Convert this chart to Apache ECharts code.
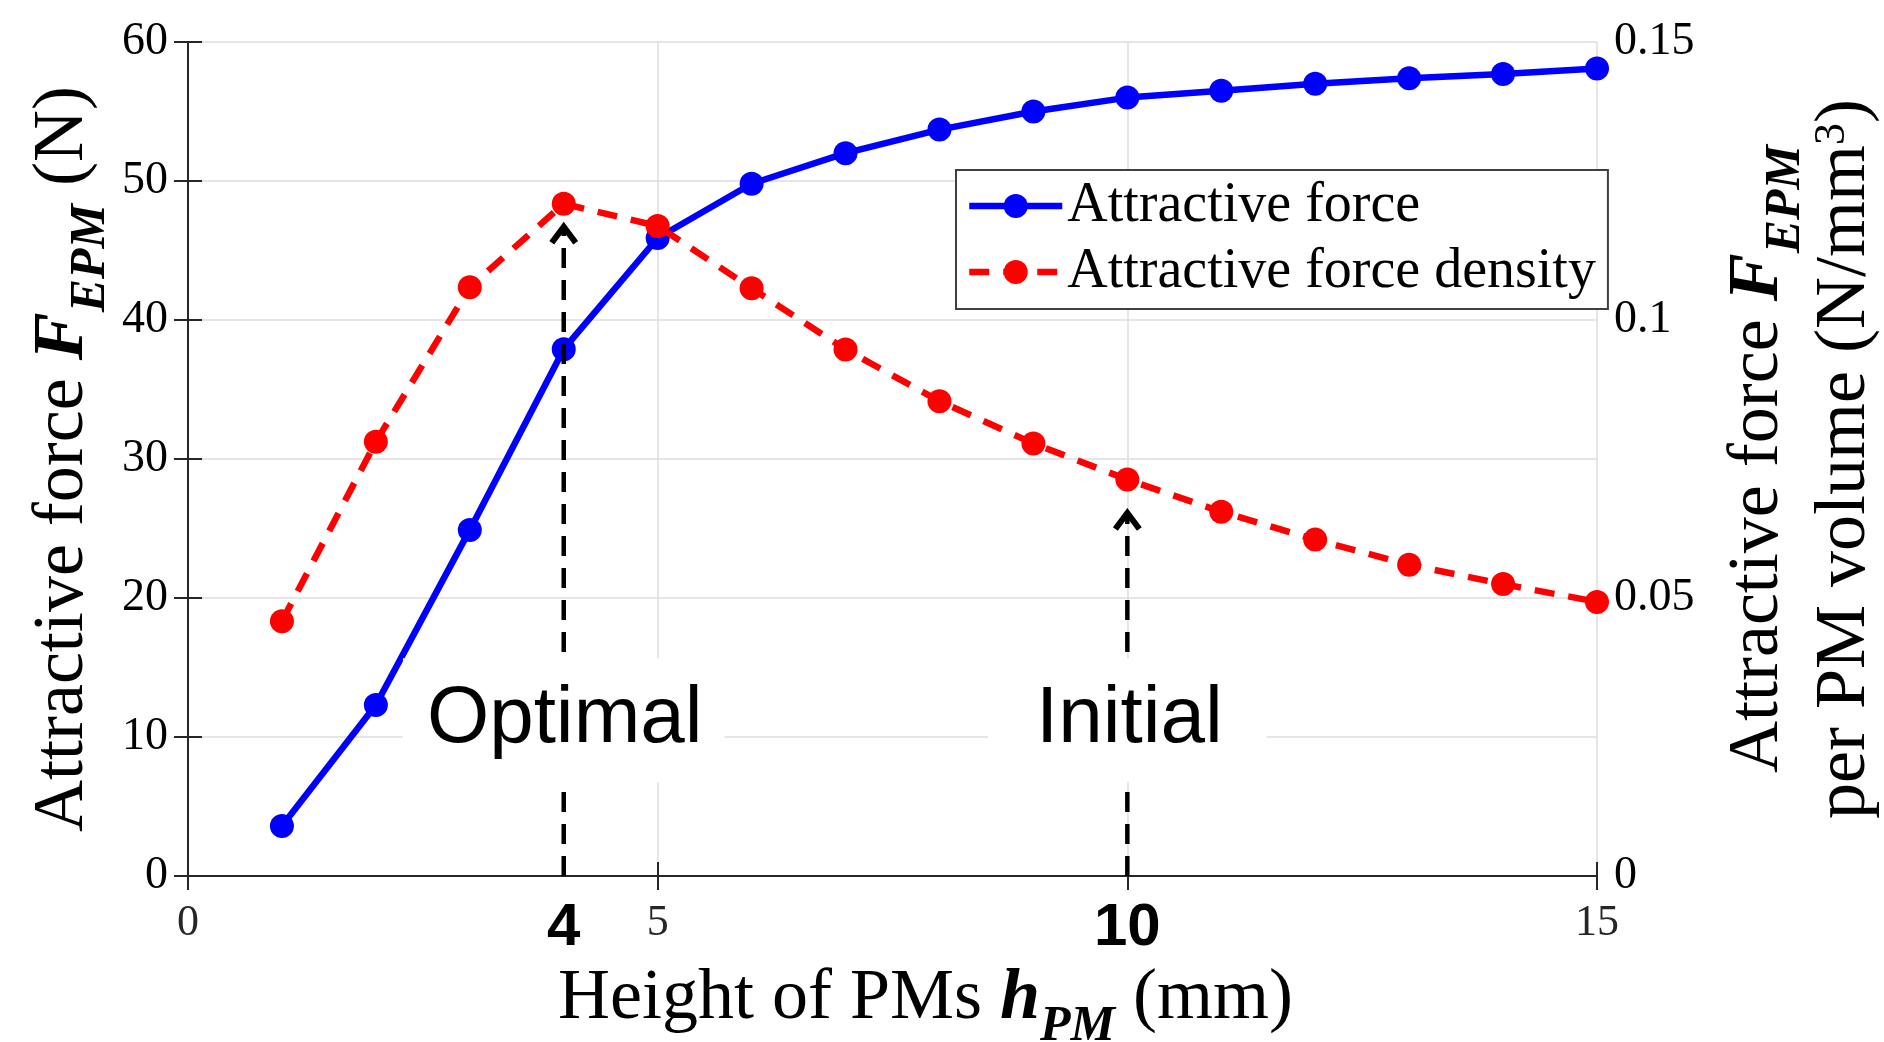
<!DOCTYPE html>
<html>
<head>
<meta charset="utf-8">
<title>Attractive force vs. PM height</title>
<script src="https://cdn.jsdelivr.net/npm/echarts@6/dist/echarts.min.js"></script>
<style>
  html, body { margin: 0; padding: 0; background: #fff; }
  #chart { width: 1884px; height: 1042px; }
</style>
</head>
<body>
<div id="chart"></div>
<script>
// PM height (mm)
const heights = [1, 2, 3, 4, 5, 6, 7, 8, 9, 10, 11, 12, 13, 14, 15];
// Attractive force F_EPM (N)
const attractiveForce = [3.6, 12.3, 24.9, 37.9, 45.9, 49.8, 52.0, 53.7, 55.0, 56.0, 56.5, 57.0, 57.4, 57.7, 58.1];
// Attractive force per PM volume (N/mm^3)
const forceDensity = [0.0458, 0.0781, 0.1059, 0.1209, 0.1169, 0.1057, 0.0947, 0.0854, 0.0778, 0.0713, 0.0655, 0.0605, 0.0560, 0.0525, 0.0493];

// Highlighted designs: arrow position, arrow head level (left-axis units), caption level
const markerHeights = [4, 10];
const markerLabels = ['Optimal', 'Initial'];
const arrowTips = [47.0, 26.4];
const captionLevel = [11.2, 11.2];

// Bottom-axis label positions; emphasised ones are drawn bold
const xLabelValues = [0, 4, 5, 10, 15];
const emphasisedTicks = [4, 10];

const seriesNames = ['Attractive force', 'Attractive force density'];

const SERIF = '"Liberation Serif", "Times New Roman", serif';
const SANS = '"Liberation Sans", Arial, sans-serif';
const AXIS_COLOR = '#262626';
const GRID_COLOR = '#dedede';

// rich styles shared by the axis titles (regular, bold italic, subscript, superscript)
const titleRich = {
  r: { fontFamily: SERIF, fontSize: 72, lineHeight: 87, color: '#000' },
  b: { fontFamily: SERIF, fontSize: 72, fontWeight: 'bold', fontStyle: 'italic', lineHeight: 87, color: '#000' },
  s: { fontFamily: SERIF, fontSize: 50, fontWeight: 'bold', fontStyle: 'italic', lineHeight: 87, padding: [55, 0, 0, 0], color: '#000' },
  sup: { fontFamily: SERIF, fontSize: 44, lineHeight: 87, padding: [0, 0, 27, 0], color: '#000' }
};

const boxPadding = [[22, 22, 22, 24], [22, 44, 22, 48]];

const chart = echarts.init(document.getElementById('chart'), null, { renderer: 'canvas' });

const option = {
  animation: false,
  backgroundColor: '#fff',
  grid: { left: 188, right: 287, top: 42, bottom: 166, outerBoundsMode: 'none', containLabel: false },
  legend: {
    data: seriesNames,
    orient: 'vertical',
    left: 956,
    top: 170,
    padding: [8, 12, 9, 10],
    itemWidth: 93,
    itemHeight: 30,
    itemGap: 10,
    backgroundColor: '#fff',
    borderColor: '#404040',
    borderWidth: 2,
    borderRadius: 0,
    selectedMode: false,
    lineStyle: { width: 6.5 },
    textStyle: { fontFamily: SERIF, fontSize: 56, lineHeight: 54, color: '#000' }
  },
  xAxis: [
    {
      type: 'value',
      position: 'bottom',
      min: 0, max: 15, interval: 5,
      name: '{r|Height of PMs }{b|h}{s|PM}{r| (mm)}',
      nameLocation: 'middle',
      nameGap: 80,
      nameMoveOverlap: false,
      nameTextStyle: { rich: titleRich, padding: [0, 0, 0, 66] },
      axisLine: { show: true, lineStyle: { color: AXIS_COLOR, width: 2 } },
      axisTick: { show: true, inside: true, length: 14, lineStyle: { color: AXIS_COLOR, width: 2 } },
      splitLine: { show: true, lineStyle: { color: GRID_COLOR, width: 1.5 } },
      axisLabel: {
        customValues: xLabelValues,
        margin: 26,
        showMinLabel: true,
        showMaxLabel: true,
        hideOverlap: false,
        formatter: v => emphasisedTicks.includes(v) ? '{b|' + v + '}' : '{n|' + v + '}',
        rich: {
          n: { fontFamily: SERIF, fontSize: 44, lineHeight: 42, color: AXIS_COLOR },
          b: { fontFamily: SANS, fontSize: 60, fontWeight: 'bold', lineHeight: 52, color: '#000' }
        }
      }
    },
    {
      type: 'value',
      position: 'top',
      min: 0, max: 15, interval: 5,
      axisLine: { show: true, lineStyle: { color: AXIS_COLOR, width: 2 } },
      axisTick: { show: true, inside: true, length: 14, lineStyle: { color: AXIS_COLOR, width: 2 } },
      splitLine: { show: false },
      axisLabel: { show: false }
    }
  ],
  yAxis: [
    {
      type: 'value',
      position: 'left',
      min: 0, max: 60, interval: 10,
      name: '{r|Attractive force }{b|F}{s|EPM}{r| (N)}',
      nameLocation: 'middle',
      nameGap: 81,
      nameMoveOverlap: false,
      nameTextStyle: { rich: titleRich },
      axisLine: { show: true, lineStyle: { color: AXIS_COLOR, width: 2 } },
      axisTick: { show: true, inside: true, length: 14, lineStyle: { color: AXIS_COLOR, width: 2 } },
      splitLine: { show: true, lineStyle: { color: GRID_COLOR, width: 1.5 } },
      axisLabel: {
        margin: 20,
        showMinLabel: true,
        showMaxLabel: true,
        fontFamily: SERIF, fontSize: 46, color: '#000'
      }
    },
    {
      type: 'value',
      position: 'right',
      min: 0, max: 0.15, interval: 0.025,
      name: '{r|Attractive force }{b|F}{s|EPM}\n{r|per PM volume (N/mm}{sup|3}{r|)}',
      nameLocation: 'middle',
      nameGap: 118,
      nameMoveOverlap: false,
      nameTextStyle: { rich: titleRich },
      axisLine: { show: true, lineStyle: { color: AXIS_COLOR, width: 2 } },
      axisTick: { show: true, inside: true, length: 14, lineStyle: { color: AXIS_COLOR, width: 2 } },
      splitLine: { show: false },
      axisLabel: {
        margin: 17,
        showMinLabel: true,
        showMaxLabel: true,
        fontFamily: SERIF, fontSize: 46, color: '#000',
        formatter: v => {
          const k = Math.round(v * 1000);
          return k % 50 === 0 ? String(k / 1000) : '';
        }
      }
    }
  ],
  series: [
    {
      name: seriesNames[0],
      type: 'line',
      xAxisIndex: 0, yAxisIndex: 0,
      data: heights.map((h, i) => [h, attractiveForce[i]]),
      symbol: 'circle',
      symbolSize: 24,
      clip: false,
      color: '#0000ff',
      itemStyle: { color: '#0000ff' },
      lineStyle: { color: '#0000ff', width: 6.5, type: 'solid' },
      emphasis: { disabled: true },
      z: 3
    },
    {
      name: seriesNames[1],
      type: 'line',
      xAxisIndex: 0, yAxisIndex: 1,
      data: heights.map((h, i) => [h, forceDensity[i]]),
      symbol: 'circle',
      symbolSize: 24,
      clip: false,
      color: '#ff0000',
      itemStyle: { color: '#ff0000' },
      lineStyle: { color: '#ff0000', width: 6.5, type: [20, 14] },
      emphasis: { disabled: true },
      z: 4
    },
    {
      // dashed arrows pointing at the highlighted designs, with their captions
      type: 'custom',
      xAxisIndex: 0, yAxisIndex: 0,
      silent: true,
      clip: false,
      z: 6,
      data: markerHeights.map((h, i) => [h, arrowTips[i], captionLevel[i]]),
      encode: { x: 0, y: 1 },
      renderItem: (params, api) => {
        const i = params.dataIndex;
        const x = api.value(0);
        const base = api.coord([x, 0]);
        const head = api.coord([x, api.value(1)]);
        const mid = api.coord([x, api.value(2)]);
        return {
          type: 'group',
          children: [
            {
              type: 'line',
              shape: { x1: base[0], y1: base[1], x2: head[0], y2: head[1] + 3 },
              style: { stroke: '#000', lineWidth: 4.5, lineDash: [20, 12] }
            },
            {
              type: 'polyline',
              shape: { points: [[head[0] - 12, head[1] + 20], [head[0], head[1] + 4], [head[0] + 12, head[1] + 20]] },
              style: { stroke: '#000', fill: null, lineWidth: 6, lineJoin: 'miter' }
            },
            {
              type: 'text',
              style: {
                x: mid[0], y: mid[1],
                text: markerLabels[i],
                font: '80px ' + SANS,
                fill: '#000',
                align: 'center',
                verticalAlign: 'middle',
                lineHeight: 80,
                backgroundColor: '#fff',
                padding: boxPadding[i]
              }
            }
          ]
        };
      }
    }
  ]
};

chart.setOption(option);
</script>
</body>
</html>
